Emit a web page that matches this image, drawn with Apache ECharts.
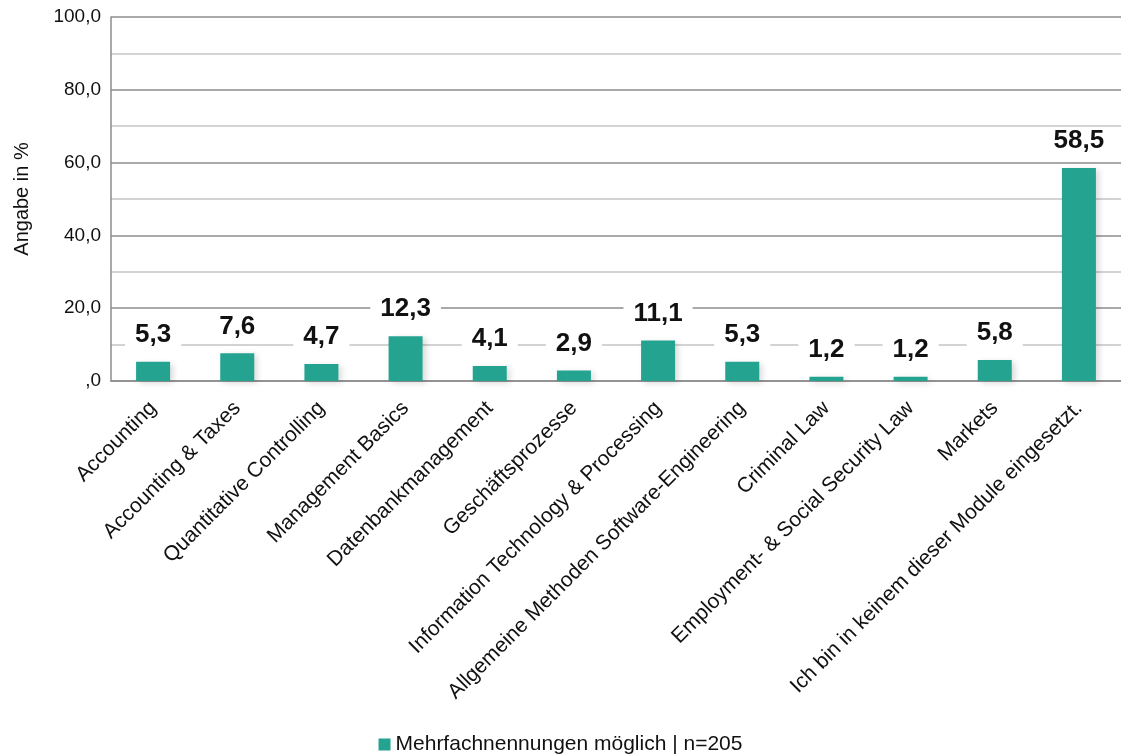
<!DOCTYPE html>
<html><head><meta charset="utf-8">
<script src="https://cdn.jsdelivr.net/npm/echarts@6/dist/echarts.min.js"></script>
<style>html,body{margin:0;padding:0;background:#fff}#c{width:1121px;height:756px}</style>
</head><body><div id="c"></div>
<script>
const categories = ['Accounting','Accounting & Taxes','Quantitative Controlling','Management Basics','Datenbankmanagement','Geschäftsprozesse','Information Technology & Processing','Allgemeine Methoden Software-Engineering','Criminal Law','Employment- & Social Security Law','Markets','Ich bin in keinem dieser Module eingesetzt.'];
const values = [5.3,7.6,4.7,12.3,4.1,2.9,11.1,5.3,1.2,1.2,5.8,58.5];
const seriesName = 'Mehrfachnennungen möglich | n=205';
const yTicks = [0,20,40,60,80,100];
const fmt = v => v === 0 ? ',0' : v.toFixed(1).replace('.', ',');
const FF = '"Liberation Sans", Arial, sans-serif';
const chart = echarts.init(document.getElementById('c'));
chart.setOption({
  animation:false,
  textStyle:{fontFamily:FF},
  grid:{left:111,right:0,top:17,height:364},
  legend:{top:729,left:'center',icon:'rect',itemWidth:12,itemHeight:12,itemGap:4,
    textStyle:{fontSize:21,color:'#111',fontFamily:FF},data:[seriesName]},
  xAxis:{type:'category',data:categories,
    axisLine:{lineStyle:{color:'#8c8c8c',width:1.5}},axisTick:{show:false},
    axisLabel:{rotate:45,fontSize:21,color:'#111',margin:24,interval:0,fontFamily:FF}},
  yAxis:{type:'value',min:0,max:100,interval:10,
    name:'Angabe in %',nameLocation:'middle',nameGap:79,nameRotate:90,
    nameTextStyle:{fontSize:20,color:'#111',fontFamily:FF},
    axisLine:{show:true,lineStyle:{color:'#8c8c8c',width:1.5}},axisTick:{show:false},
    axisLabel:{fontSize:19,color:'#111',margin:10,fontFamily:FF,formatter:v=>yTicks.includes(v)?fmt(v):''},
    splitLine:{lineStyle:{color:['#8c8c8c','#c4c4c4'],width:1.5}}},
  series:[{name:seriesName,type:'bar',data:values,barWidth:34,
    itemStyle:{color:'#24a391',shadowColor:'rgba(0,0,0,0.15)',shadowBlur:6,shadowOffsetX:3,shadowOffsetY:2},
    label:{show:true,position:'top',distance:14,fontSize:26,lineHeight:26,fontWeight:'bold',color:'#111',fontFamily:FF,
      backgroundColor:'#fff',padding:[0,10,0,10],formatter:p=>fmt(p.value)}}]
});
</script></body></html>
